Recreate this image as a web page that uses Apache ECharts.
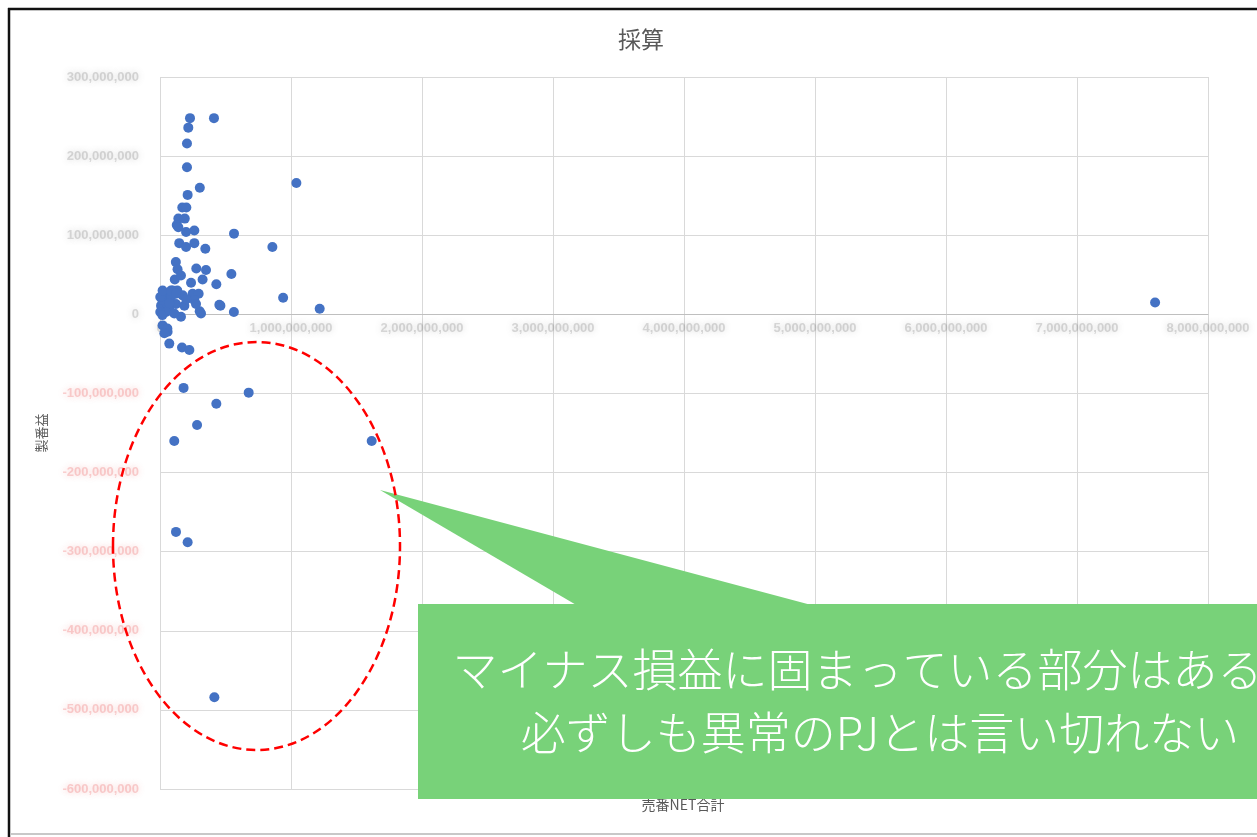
<!DOCTYPE html>
<html>
<head>
<meta charset="utf-8">
<script src="https://cdn.jsdelivr.net/npm/echarts@6/dist/echarts.min.js"></script>
<style>
  html, body { margin: 0; padding: 0; background: #ffffff; }
  #chart { width: 1257px; height: 837px; }
</style>
</head>
<body>
<div id="chart"></div>
<script>
// 売番NET合計 (x, 百万単位) と 製番益 (y, 百万単位) の各プロジェクト
const xValues = [
  229, 412, 216, 206, 206, 304, 1041, 211, 170, 201,
  140, 189, 128, 140, 199, 262, 565, 147, 199, 262,
  346, 858, 121, 134, 277, 351, 545, 113, 160, 325,
  237, 430, 940, 1219, 461, 564, 313, 303, 96, 33,
  71, 173, 249, 295, 8, 58, 122, 186, 262, 275,
  2, 46, 160, 18, 86, 132, 18, 71, 109, 201,
  453, 2, 20, 84, 71, 122, 20, 58, 71, 168,
  224, 56, 33, 180, 677, 430, 283, 109, 1616, 122,
  211, 415, 7596
];
const yValues = [
  248, 248, 236, 216, 186, 160, 166, 151, 135, 135,
  121, 121, 113, 110, 104, 106, 102, 90, 85, 90,
  83, 85, 66, 57, 58, 56, 51, 44, 49, 44,
  40, 38, 21, 7, 11, 3, 1, 4, 30, 24,
  18, 24, 26, 26, 11, 9, 13, 11, 18, 13,
  3, 3, -3, 18, 23, 30, -1, 6, 1, 19,
  12, 22, 30, 30, 14, 26, -14, -22, -37, -42,
  -45, -18, -24, -93, -99, -113, -140, -160, -160, -275,
  -288, -484, 15
];

// 目盛ラベル
const xTickLabels = ['0', '1,000,000,000', '2,000,000,000', '3,000,000,000', '4,000,000,000',
  '5,000,000,000', '6,000,000,000', '7,000,000,000', '8,000,000,000'];
const yTickLabels = ['-600,000,000', '-500,000,000', '-400,000,000', '-300,000,000', '-200,000,000',
  '-100,000,000', '0', '100,000,000', '200,000,000', '300,000,000'];

const X_MIN = 0, X_MAX = 8000, X_STEP = 1000;
const Y_MIN = -600, Y_MAX = 300, Y_STEP = 100;

const points = xValues.map((x, i) => [x, yValues[i]]);

const W = 1257, H = 837;
const GRID = { left: 160, right: 49, top: 77, bottom: 48 };
// 横軸をゼロの高さに置くためのずらし量
const plotH = H - GRID.top - GRID.bottom;
const zeroShift = -plotH * (0 - Y_MIN) / (Y_MAX - Y_MIN);

const jpFont = '"Noto Sans CJK JP", "Noto Sans", sans-serif';
const gridColor = '#d9d9d9';

// ぼかした目盛ラベルの書式
const smudge = (color) => ({
  color: color.replace('ALPHA', '0.25'),
  textShadowColor: color.replace('ALPHA', '1'),
  textShadowBlur: 6,
  fontSize: 13,
  fontWeight: 'bold',
  fontFamily: 'Liberation Sans, sans-serif'
});

const chart = echarts.init(document.getElementById('chart'), null, { renderer: 'canvas' });

chart.setOption({
  animation: false,
  backgroundColor: '#ffffff',
  title: {
    text: '採算',
    left: 618,
    top: 28,
    padding: 0,
    textStyle: { color: '#595959', fontSize: 23, fontWeight: 'normal', fontFamily: jpFont }
  },
  grid: Object.assign({ containLabel: false }, GRID),
  xAxis: {
    type: 'value',
    position: 'bottom',
    offset: zeroShift,
    min: X_MIN, max: X_MAX, interval: X_STEP,
    axisLine: { show: true, onZero: false, lineStyle: { color: '#bfbfbf', width: 1 } },
    axisTick: { show: false },
    splitLine: { show: true, lineStyle: { color: gridColor, width: 1 } },
    axisLabel: {
      margin: 8,
      showMinLabel: true,
      showMaxLabel: true,
      hideOverlap: false,
      formatter: (v) => '{g|' + xTickLabels[Math.round((v - X_MIN) / X_STEP)] + '}',
      rich: { g: smudge('rgba(110,110,110,ALPHA)') }
    }
  },
  yAxis: {
    type: 'value',
    min: Y_MIN, max: Y_MAX, interval: Y_STEP,
    name: '製番益',
    nameLocation: 'middle',
    nameRotate: 90,
    nameGap: 112,
    nameTextStyle: { color: '#595959', fontSize: 13, fontFamily: jpFont },
    axisLine: { show: false },
    axisTick: { show: false },
    splitLine: { show: true, lineStyle: { color: gridColor, width: 1 } },
    axisLabel: {
      margin: 21,
      showMinLabel: true,
      showMaxLabel: true,
      formatter: (v) => {
        const t = yTickLabels[Math.round((v - Y_MIN) / Y_STEP)];
        return (v < 0 ? '{r|' : '{g|') + t + '}';
      },
      rich: {
        g: smudge('rgba(110,110,110,ALPHA)'),
        r: smudge('rgba(235,80,80,ALPHA)')
      }
    }
  },
  series: [{
    type: 'scatter',
    data: points,
    symbol: 'circle',
    symbolSize: 10,
    itemStyle: { color: '#4472C4', opacity: 1 },
    z: 3
  }],
  graphic: [
    // 横軸名（吹き出しの下に一部隠れる）
    {
      type: 'text', z: 5,
      style: {
        text: '売番NET合計', x: 683, y: 805,
        align: 'center', verticalAlign: 'middle',
        fill: '#595959', fontSize: 14, fontFamily: jpFont
      }
    },
    // 吹き出し
    {
      type: 'polygon', z: 20,
      shape: { points: [[380, 490], [578, 606], [815, 606]] },
      style: { fill: '#78D279' }
    },
    {
      type: 'rect', z: 20,
      shape: { x: 418, y: 604, width: 924, height: 195 },
      style: { fill: '#78D279' }
    },
    {
      type: 'text', z: 21,
      style: {
        text: 'マイナス損益に固まっている部分はあるが\n必ずしも異常のPJとは言い切れない',
        x: 880, y: 701,
        align: 'center', verticalAlign: 'middle',
        fill: '#ffffff', fontSize: 45, fontWeight: 300, lineHeight: 63,
        fontFamily: jpFont
      }
    },
    // 赤い破線の楕円
    {
      type: 'ellipse', z: 30,
      shape: { cx: 256.5, cy: 546, rx: 143.5, ry: 204 },
      style: { fill: null, stroke: '#ff0000', lineWidth: 2.5, lineDash: [9, 5] }
    },
    // 外枠
    {
      type: 'line', z: 40,
      shape: { x1: 9, y1: 8, x2: 9, y2: 837 },
      style: { stroke: '#111111', lineWidth: 2.5 }
    },
    {
      type: 'line', z: 40,
      shape: { x1: 8, y1: 9, x2: 1257, y2: 9 },
      style: { stroke: '#111111', lineWidth: 2.5 }
    },
    {
      type: 'line', z: 40,
      shape: { x1: 10, y1: 834, x2: 1257, y2: 834 },
      style: { stroke: '#c8c8c8', lineWidth: 2 }
    }
  ]
});
</script>
</body>
</html>
